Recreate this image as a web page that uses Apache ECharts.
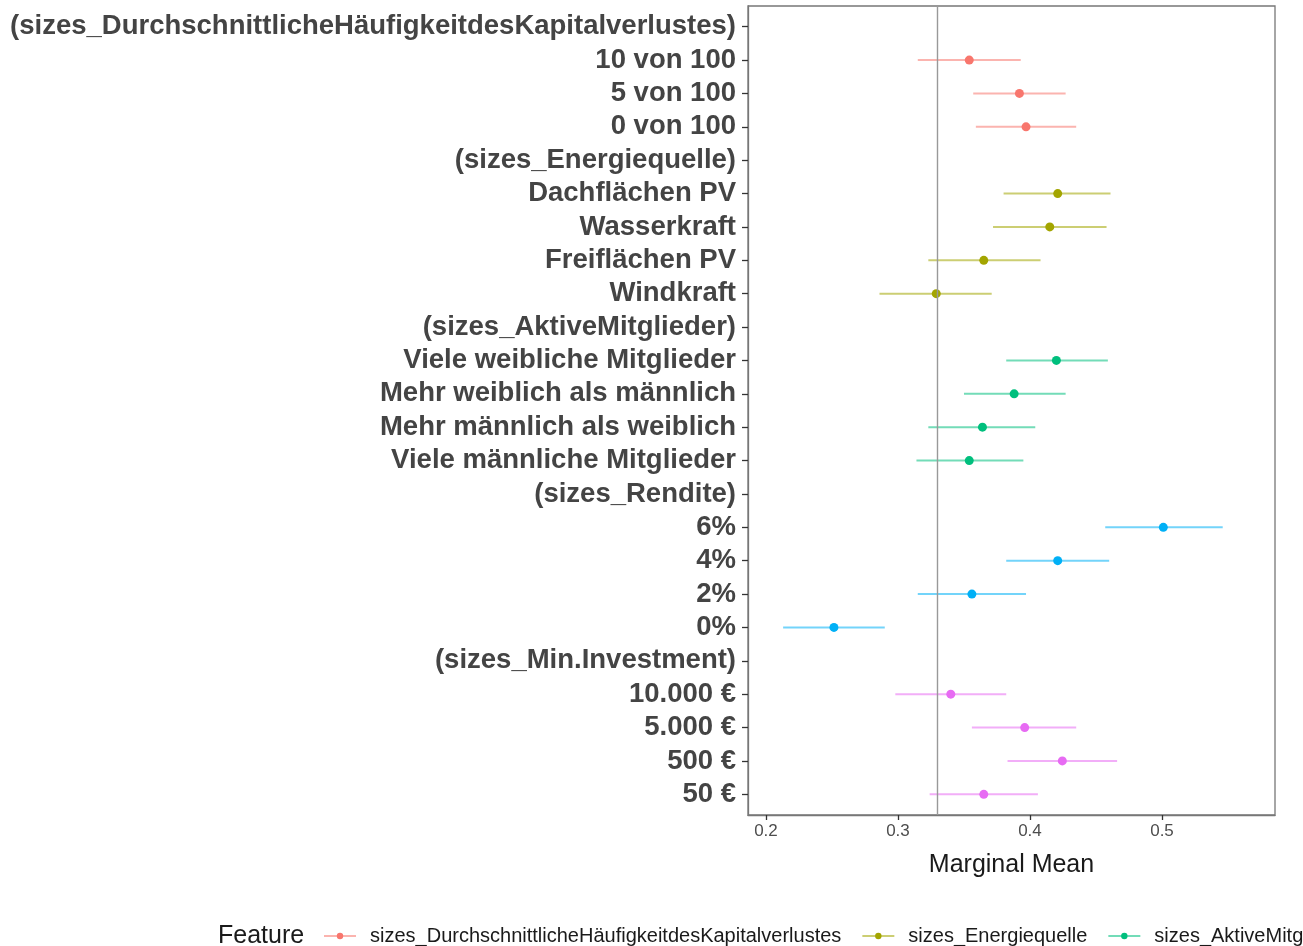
<!DOCTYPE html>
<html>
<head>
<meta charset="utf-8">
<script src="https://cdn.jsdelivr.net/npm/echarts@6/dist/echarts.min.js"></script>
<style>html,body{margin:0;padding:0;background:#fff}#c{width:1303px;height:946px}</style>
</head>
<body>
<div id="c"></div>
<script>
const rowLabels = [
  '(sizes_DurchschnittlicheHäufigkeitdesKapitalverlustes)',
  '10 von 100', '5 von 100', '0 von 100',
  '(sizes_Energiequelle)',
  'Dachflächen PV', 'Wasserkraft', 'Freiflächen PV', 'Windkraft',
  '(sizes_AktiveMitglieder)',
  'Viele weibliche Mitglieder', 'Mehr weiblich als männlich', 'Mehr männlich als weiblich', 'Viele männliche Mitglieder',
  '(sizes_Rendite)',
  '6%', '4%', '2%', '0%',
  '(sizes_Min.Investment)',
  '10.000 €', '5.000 €', '500 €', '50 €'
];
const groupNames = [
  'sizes_DurchschnittlicheHäufigkeitdesKapitalverlustes',
  'sizes_Energiequelle',
  'sizes_AktiveMitglieder',
  'sizes_Rendite',
  'sizes_Min.Investment'
];
const rowGroup = [0,0,0,0, 1,1,1,1,1, 2,2,2,2,2, 3,3,3,3,3, 4,4,4,4,4];
const estimate = [null,0.354,0.392,0.397, null,0.421,0.415,0.365,0.329, null,0.420,0.388,0.364,0.354, null,0.501,0.421,0.356,0.2515, null,0.340,0.396,0.4245,0.365];
const lower    = [null,0.315,0.357,0.359, null,0.380,0.372,0.323,0.286, null,0.382,0.350,0.323,0.314, null,0.457,0.382,0.315,0.213, null,0.298,0.356,0.383,0.324];
const upper    = [null,0.393,0.427,0.435, null,0.461,0.458,0.408,0.371, null,0.459,0.427,0.404,0.395, null,0.546,0.460,0.397,0.290, null,0.382,0.435,0.466,0.406];
const xTicks = [0.2, 0.3, 0.4, 0.5];
const referenceLine = 0.33;
const groupColors = ['#F8766D', '#A3A500', '#00BF7D', '#00B0F6', '#E76BF3'];

const rowIdx = rowLabels.map((_, i) => i);
const series = [];
groupNames.forEach((name, g) => {
  const bars = [], pts = [];
  rowIdx.forEach(i => {
    if (rowGroup[i] === g && estimate[i] != null) {
      bars.push([lower[i], upper[i], i]);
      pts.push([estimate[i], i]);
    }
  });
  series.push({
    type: 'custom', name: name + ' CI', z: 2, silent: true,
    encode: { x: [0, 1], y: 2 },
    data: bars,
    renderItem: function (params, api) {
      const a = api.coord([api.value(0), api.value(2)]);
      const b = api.coord([api.value(1), api.value(2)]);
      return { type: 'line', shape: { x1: a[0], y1: a[1], x2: b[0], y2: b[1] },
        style: { stroke: groupColors[g], lineWidth: 2, opacity: 0.55 } };
    }
  });
  series.push({
    type: 'line', name: name, z: 3,
    data: pts, symbol: 'circle', symbolSize: 9, showSymbol: true,
    itemStyle: { color: groupColors[g] },
    lineStyle: { width: 0, opacity: 0, color: groupColors[g] },
    animation: false
  });
});
series.push({
  type: 'line', name: 'ref', data: [], silent: true,
  markLine: { symbol: 'none', silent: true, label: { show: false },
    lineStyle: { color: '#999999', width: 1.4, type: 'solid' },
    data: [{ xAxis: referenceLine }], animation: false }
});

const chart = echarts.init(document.getElementById('c'), null, { renderer: 'canvas' });
chart.setOption({
  animation: false,
  backgroundColor: '#ffffff',
  textStyle: { fontFamily: 'Liberation Sans, Arial, sans-serif' },
  grid: { left: 748, right: 28, top: 6, bottom: 131, containLabel: false,
    show: true, borderColor: '#777777', borderWidth: 1.3 },
  xAxis: {
    type: 'value', min: 0.1864, max: 0.5856,
    splitLine: { show: false },
    axisLine: { show: true, onZero: false, lineStyle: { color: '#777777', width: 1.3 } },
    axisTick: { show: true, length: 5, lineStyle: { color: '#333', width: 1.3 }, customValues: xTicks },
    axisLabel: { customValues: xTicks, color: '#4d4d4d', fontSize: 17, margin: 8,
      formatter: v => String(Math.round(v * 10) / 10) },
    name: 'Marginal Mean', nameLocation: 'middle', nameGap: 38,
    nameTextStyle: { color: '#1a1a1a', fontSize: 25 }
  },
  yAxis: {
    type: 'value', inverse: true, min: -0.62, max: 23.62,
    splitLine: { show: false },
    axisLine: { show: true, onZero: false, lineStyle: { color: '#777777', width: 1.3 } },
    axisTick: { show: true, length: 6, lineStyle: { color: '#333', width: 1.3 }, customValues: rowIdx },
    axisLabel: { customValues: rowIdx, color: '#444444', fontSize: 27.5, fontWeight: 'bold', margin: 12,
      padding: [4, 0, 0, 0],
      formatter: v => rowLabels[Math.round(v)] }
  },
  title: { text: 'Feature', left: 213, top: 919,
    textStyle: { fontSize: 25, fontWeight: 'normal', color: '#1a1a1a' } },
  legend: {
    data: groupNames, left: 318, top: 921, width: 3000, orient: 'horizontal',
    itemWidth: 32, itemHeight: 8, itemGap: 20,
    lineStyle: { width: 2, opacity: 0.55 },
    textStyle: { fontSize: 20, color: '#1a1a1a', padding: [0, 0, 0, 9] },
    selectedMode: false
  },
  series: series
});
</script>
</body>
</html>
